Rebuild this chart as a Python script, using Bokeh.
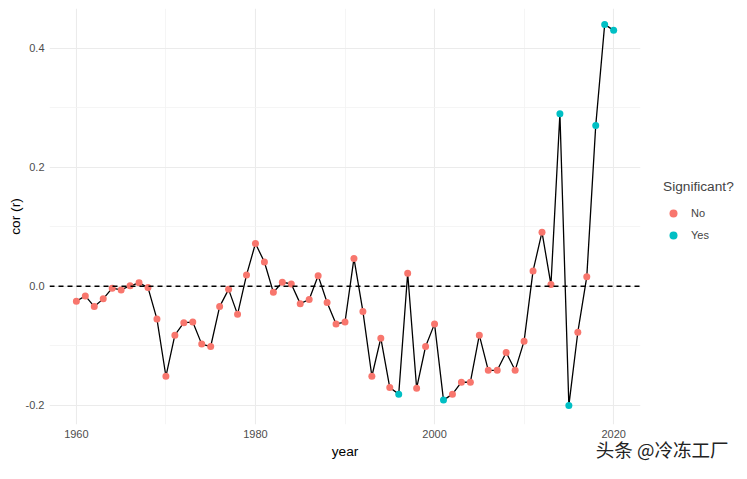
from bokeh.plotting import figure
from bokeh.models import ColumnDataSource, FixedTicker, Span, Range1d, Title
from bokeh.transform import factor_cmap
from bokeh.embed import file_html
from bokeh.resources import INLINE

years = list(range(1960, 2021))
cor_r = [-0.025, -0.016, -0.034, -0.021, -0.003, -0.006, 0.001, 0.006, -0.002, -0.055,
         -0.151, -0.082, -0.061, -0.060, -0.097, -0.101, -0.034, -0.005, -0.047, 0.019,
         0.072, 0.041, -0.010, 0.007, 0.004, -0.029, -0.022, 0.018, -0.027, -0.063,
         -0.060, 0.047, -0.042, -0.151, -0.087, -0.170, -0.181, 0.022, -0.171, -0.101,
         -0.063, -0.191, -0.181, -0.161, -0.161, -0.082, -0.141, -0.141, -0.111, -0.141,
         -0.092, 0.026, 0.091, 0.003, 0.290, -0.200, -0.077, 0.016, 0.270, 0.440,
         0.430]
significant_years = [1996, 2001, 2014, 2015, 2018, 2019, 2020]
significant = ["Yes" if y in significant_years else "No" for y in years]
sig_levels = ["No", "Yes"]
sig_colors = ["#F8766D", "#00BFC4"]
x_ticks = [1960, 1980, 2000, 2020]
x_minor = [1970, 1990, 2010]
y_ticks = [-0.2, 0.0, 0.2, 0.4]
y_minor = [-0.1, 0.1, 0.3]
y_tick_labels = {-0.2: "-0.2", 0.0: "0.0", 0.2: "0.2", 0.4: "0.4"}

src = ColumnDataSource(dict(year=years, r=cor_r, sig=significant))

FONT = "Liberation Sans"
p = figure(frame_width=591, frame_height=416, output_backend="svg", toolbar_location=None,
           x_range=Range1d(1957, 2023), y_range=Range1d(-0.232, 0.4667),
           min_border_left=49, min_border_right=0, min_border_top=8, min_border_bottom=55)
p.outline_line_color = None
p.background_fill_color = "white"
p.border_fill_color = None

p.xaxis.ticker = FixedTicker(ticks=x_ticks, minor_ticks=x_minor)
p.yaxis.ticker = FixedTicker(ticks=y_ticks, minor_ticks=y_minor)
p.yaxis.major_label_overrides = y_tick_labels
for ax in (p.xaxis, p.yaxis):
    ax.axis_line_color = None
    ax.major_tick_line_color = None
    ax.minor_tick_line_color = None
    ax.major_tick_out = 0
    ax.minor_tick_out = 0
    ax.major_label_text_font = FONT
    ax.major_label_text_font_size = "11px"
    ax.major_label_text_color = "#4D4D4D"
    ax.axis_label_text_font = FONT
    ax.axis_label_text_font_size = "13.7px"
    ax.axis_label_text_font_style = "normal"
    ax.axis_label_text_color = "black"
    ax.major_label_standoff = 5
p.xaxis.axis_label_standoff = 3
p.yaxis.axis_label_standoff = 0
p.xaxis.axis_label = "year"
p.yaxis.axis_label = "cor (r)"

for g in (p.xgrid, p.ygrid):
    g.grid_line_color = "#EBEBEB"
    g.grid_line_width = 1.1
    g.minor_grid_line_color = "#F2F2F2"
    g.minor_grid_line_width = 0.8

p.add_layout(Span(location=0, dimension="width", line_color="black",
                  line_dash="5 4", line_width=1.5))

p.line("year", "r", source=src, line_color="black", line_width=1.3)
p.scatter("year", "r", source=src, size=7, line_color=None,
          fill_color=factor_cmap("sig", sig_colors, sig_levels),
          legend_field="sig")

leg = p.legend[0]
leg.location = (23, 179)
leg.title = "Significant?"
leg.title_text_font = FONT
leg.title_text_font_size = "13.7px"
leg.title_text_font_style = "normal"
leg.title_standoff = 9
leg.label_text_font = FONT
leg.label_text_font_size = "11px"
leg.label_standoff = 8
leg.border_line_color = None
leg.background_fill_alpha = 0
leg.glyph_width = 20
leg.glyph_height = 20
leg.label_height = 20
leg.spacing = 2
leg.padding = 10
leg.margin = 0
p.add_layout(leg, "right")

wm = Title(text="头条 @冷冻工厂", align="right", offset=-88, standoff=-52,
           vertical_align="top",
           text_font="Noto Sans CJK SC", text_font_size="18.5px",
           text_font_style="normal", text_color="#222222")
p.add_layout(wm, "below")

open("out.html", "w").write(file_html(p, INLINE))
